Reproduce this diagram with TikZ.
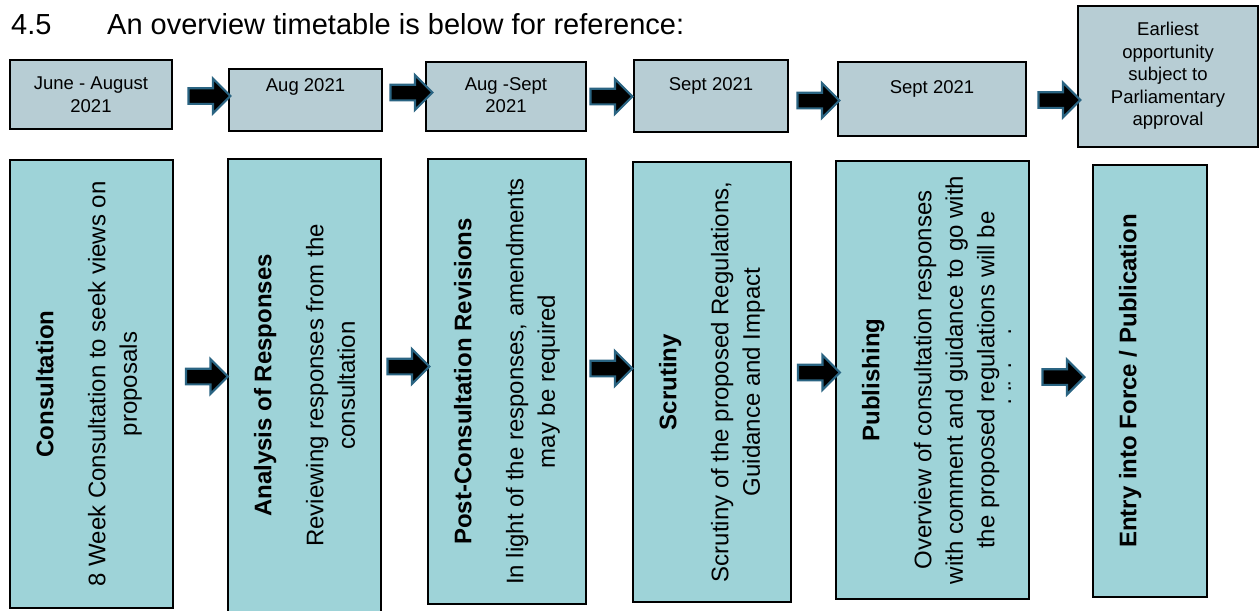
\documentclass[tikz,border=0pt]{standalone}
\usepackage{fontspec}
\setmainfont{Liberation Sans}
\usetikzlibrary{shapes.arrows}

\definecolor{datefill}{HTML}{B7CDD4}
\definecolor{stagefill}{HTML}{9ED3D8}
\definecolor{arrowedge}{HTML}{2A6482}

\tikzset{
  datebox/.style={draw=black, line width=2.4pt, fill=datefill, inner sep=0pt},
  stagebox/.style={draw=black, line width=2.4pt, fill=stagefill, inner sep=0pt},
  datetext/.style={anchor=north, inner sep=0pt, align=center,
    font=\fontsize{18.5}{22.5}\selectfont},
  stagetext/.style={anchor=north, rotate=90, inner sep=0pt, align=center,
    font=\fontsize{24}{31.5}\selectfont},
  blockarrow/.style={single arrow, draw=arrowedge, fill=black, line width=2.2pt,
    text height=6.75pt, text depth=6.75pt, text width=0pt, inner sep=0pt,
    minimum height=42pt, single arrow head extend=9.5pt},
  heading/.style={anchor=base west, inner sep=0pt,
    font=\fontsize{29}{34}\selectfont},
}

\begin{document}
\begin{tikzpicture}[x=1pt, y=-1pt]
\useasboundingbox (0,0) rectangle (1260,610);

% heading line
\node[heading] (num) at (11,35) {4.5};
\node[heading] (intro) at (107,35) {An overview timetable is below for reference:};

% date boxes
\node[datebox, minimum width=162pt, minimum height=69pt] (t1) at (91,94.5) {};
\node[datebox, minimum width=153pt, minimum height=62pt] (t2) at (305.5,100) {};
\node[datebox, minimum width=160pt, minimum height=69pt] (t3) at (506,96.5) {};
\node[datebox, minimum width=154pt, minimum height=72pt] (t4) at (711,96) {};
\node[datebox, minimum width=188pt, minimum height=74pt] (t5) at (932,99) {};
\node[datebox, minimum width=180pt, minimum height=141pt] (t6) at (1168,76.5) {};

\node[datetext] (d1) at (91,77) {June - August\\2021};
\node[datetext] (d2) at (305.5,78) {Aug 2021};
\node[datetext] (d3) at (506,77) {Aug -Sept\\2021};
\node[datetext] (d4) at (711,77) {Sept 2021};
\node[datetext] (d5) at (932,80) {Sept 2021};
\node[datetext] (d6) at (1168,22) {Earliest\\opportunity\\subject to\\Parliamentary\\approval};

% arrows between date boxes
\node[blockarrow] (ta1) at (205.5,96) {};
\node[blockarrow] (ta2) at (407.5,92.5) {};
\node[blockarrow] (ta3) at (607.5,96.5) {};
\node[blockarrow] (ta4) at (814.5,100.5) {};
\node[blockarrow] (ta5) at (1055.5,100) {};

% stage boxes
\node[stagebox, minimum width=163pt, minimum height=448pt] (b1) at (91.5,384) {};
\node[stagebox, minimum width=153pt, minimum height=453pt] (b2) at (304.5,385.5) {};
\node[stagebox, minimum width=158pt, minimum height=445pt] (b3) at (507,381.5) {};
\node[stagebox, minimum width=158pt, minimum height=440pt] (b4) at (712,382) {};
\node[stagebox, minimum width=193pt, minimum height=438pt] (b5) at (932.5,380) {};
\node[stagebox, minimum width=114pt, minimum height=432pt] (b6) at (1150,381) {};

\node[stagetext] (s1) at ([xshift=27pt]b1.west)
  {\textbf{Consultation}\\[20.5pt]8 Week Consultation to seek views on\\proposals};
\node[stagetext] (s2) at ([xshift=27pt]b2.west)
  {\textbf{Analysis of Responses}\\[20.5pt]Reviewing responses from the\\consultation};
\node[stagetext] (s3) at ([xshift=27pt]b3.west)
  {\textbf{Post-Consultation Revisions}\\[20.5pt]In light of the responses, amendments\\may be required};
\node[stagetext] (s4) at ([xshift=27pt]b4.west)
  {\textbf{Scrutiny}\\[20.5pt]Scrutiny of the proposed Regulations,\\Guidance and Impact};
\begin{scope}
  % the text area of this box cuts off its last line
  \clip (b5.north west) rectangle (1010,600);
  \node[stagetext] (s5) at ([xshift=27pt]b5.west)
    {\textbf{Publishing}\\[20.5pt]Overview of consultation responses\\with comment and guidance to go with\\the proposed regulations will be\\published};
\end{scope}
\node[stagetext] (s6) at ([xshift=27pt]b6.west)
  {\textbf{Entry into Force / Publication}};

% arrows between stage boxes
\node[blockarrow] (ba1) at (203,376.5) {};
\node[blockarrow] (ba2) at (404.5,366.5) {};
\node[blockarrow] (ba3) at (607.5,368.5) {};
\node[blockarrow] (ba4) at (815,372.5) {};
\node[blockarrow] (ba5) at (1059.5,377) {};
\end{tikzpicture}
\end{document}
